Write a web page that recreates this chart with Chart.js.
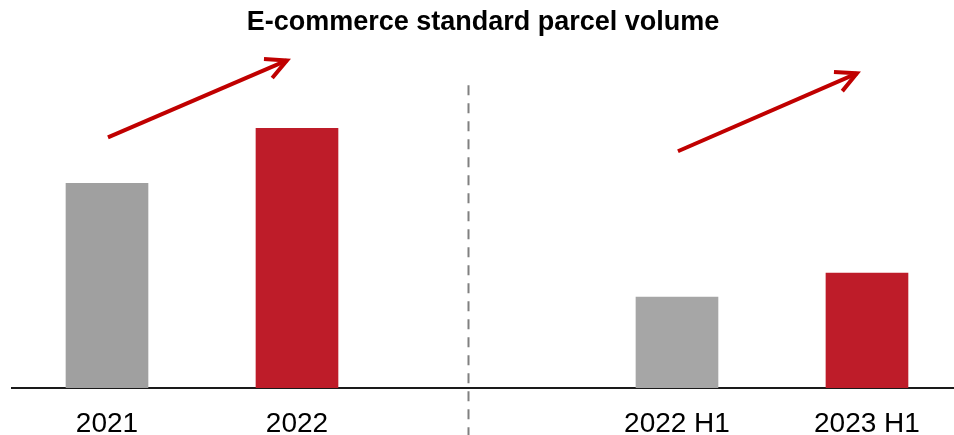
<!DOCTYPE html>
<html>
<head>
<meta charset="utf-8">
<script src="https://cdn.jsdelivr.net/npm/chart.js@4/dist/chart.umd.min.js"></script>
<style>
  html, body { margin: 0; padding: 0; background: #fff; }
  #wrap { width: 954px; height: 435px; }
</style>
</head>
<body>
<div id="wrap"><canvas id="c" width="954" height="435"></canvas></div>
<script>
// Periods, their positions on the x axis (a gap separates full years from half-years)
const categories = ['2021', '2022', '2022 H1', '2023 H1'];
const positions = [0, 1, 3, 4];
// Parcel volume (relative units)
const volumes = [205, 260, 91, 115];
const barColors = ['#a0a0a0', '#be1c29', '#a6a6a6', '#be1c29'];

// Trend arrows in data coordinates: [x0, y0, x1, y1]
const trendArrows = [
  [0.005, 251, 0.947, 328],
  [3.005, 237, 3.947, 315]
];
// Divider between annual and half-year comparison
const dividerAt = 1.9;
const dividerTop = 303;

const decorations = {
  id: 'decorations',
  afterDatasetsDraw(chart) {
    const { ctx, scales: { x, y } } = chart;
    ctx.save();
    // dashed divider
    ctx.strokeStyle = '#808080';
    ctx.lineWidth = 2;
    ctx.setLineDash([10, 8]);
    ctx.beginPath();
    const dx = Math.round(x.getPixelForValue(dividerAt)) + 0.5;
    ctx.moveTo(dx, y.getPixelForValue(dividerTop));
    ctx.lineTo(dx, chart.height);
    ctx.stroke();
    ctx.setLineDash([]);

    // trend arrows
    ctx.strokeStyle = '#c00000';
    ctx.lineWidth = 4;
    ctx.lineCap = 'butt';
    ctx.lineJoin = 'miter';
    trendArrows.forEach(([x0, y0, x1, y1]) => {
      const ax = x.getPixelForValue(x0), ay = y.getPixelForValue(y0);
      const bx = x.getPixelForValue(x1), by = y.getPixelForValue(y1);
      ctx.beginPath();
      ctx.moveTo(ax, ay);
      ctx.lineTo(bx, by);
      ctx.stroke();
      const ang = Math.atan2(by - ay, bx - ax);
      const len = 23, spread = 27 * Math.PI / 180;
      ctx.beginPath();
      ctx.moveTo(bx - len * Math.cos(ang - spread), by - len * Math.sin(ang - spread));
      ctx.lineTo(bx, by);
      ctx.lineTo(bx - len * Math.cos(ang + spread), by - len * Math.sin(ang + spread));
      ctx.stroke();
    });
    ctx.restore();
  }
};

new Chart(document.getElementById('c'), {
  type: 'bar',
  data: {
    datasets: [{
      data: positions.map((p, i) => ({ x: p, y: volumes[i] })),
      backgroundColor: barColors,
      borderWidth: 0,
      barThickness: 82
    }]
  },
  options: {
    responsive: false,
    animation: false,
    layout: { padding: { left: 12, right: 0, top: 0, bottom: 0 } },
    plugins: {
      legend: { display: false },
      tooltip: { enabled: false },
      title: {
        display: true,
        text: 'E-commerce standard parcel volume',
        color: '#000',
        font: { family: '"Liberation Sans", Arial, sans-serif', size: 27, weight: 'bold' },
        padding: { top: 6, bottom: 7 }
      }
    },
    scales: {
      x: {
        type: 'linear',
        offset: false,
        min: -0.5,
        max: 4.458,
        grid: { display: false },
        border: { display: true, color: '#1a1a1a', width: 2 },
        afterBuildTicks(scale) {
          scale.ticks = positions.map(v => ({ value: v }));
        },
        afterFit(scale) {
          scale.height = 47;
        },
        ticks: {
          autoSkip: false,
          maxRotation: 0,
          padding: 11,
          color: '#000',
          font: { family: '"Liberation Sans", Arial, sans-serif', size: 28 },
          callback(value) {
            const i = positions.indexOf(value);
            return i >= 0 ? categories[i] : '';
          }
        }
      },
      y: {
        display: false,
        min: 0,
        max: 343
      }
    }
  },
  plugins: [decorations]
});
</script>
</body>
</html>
